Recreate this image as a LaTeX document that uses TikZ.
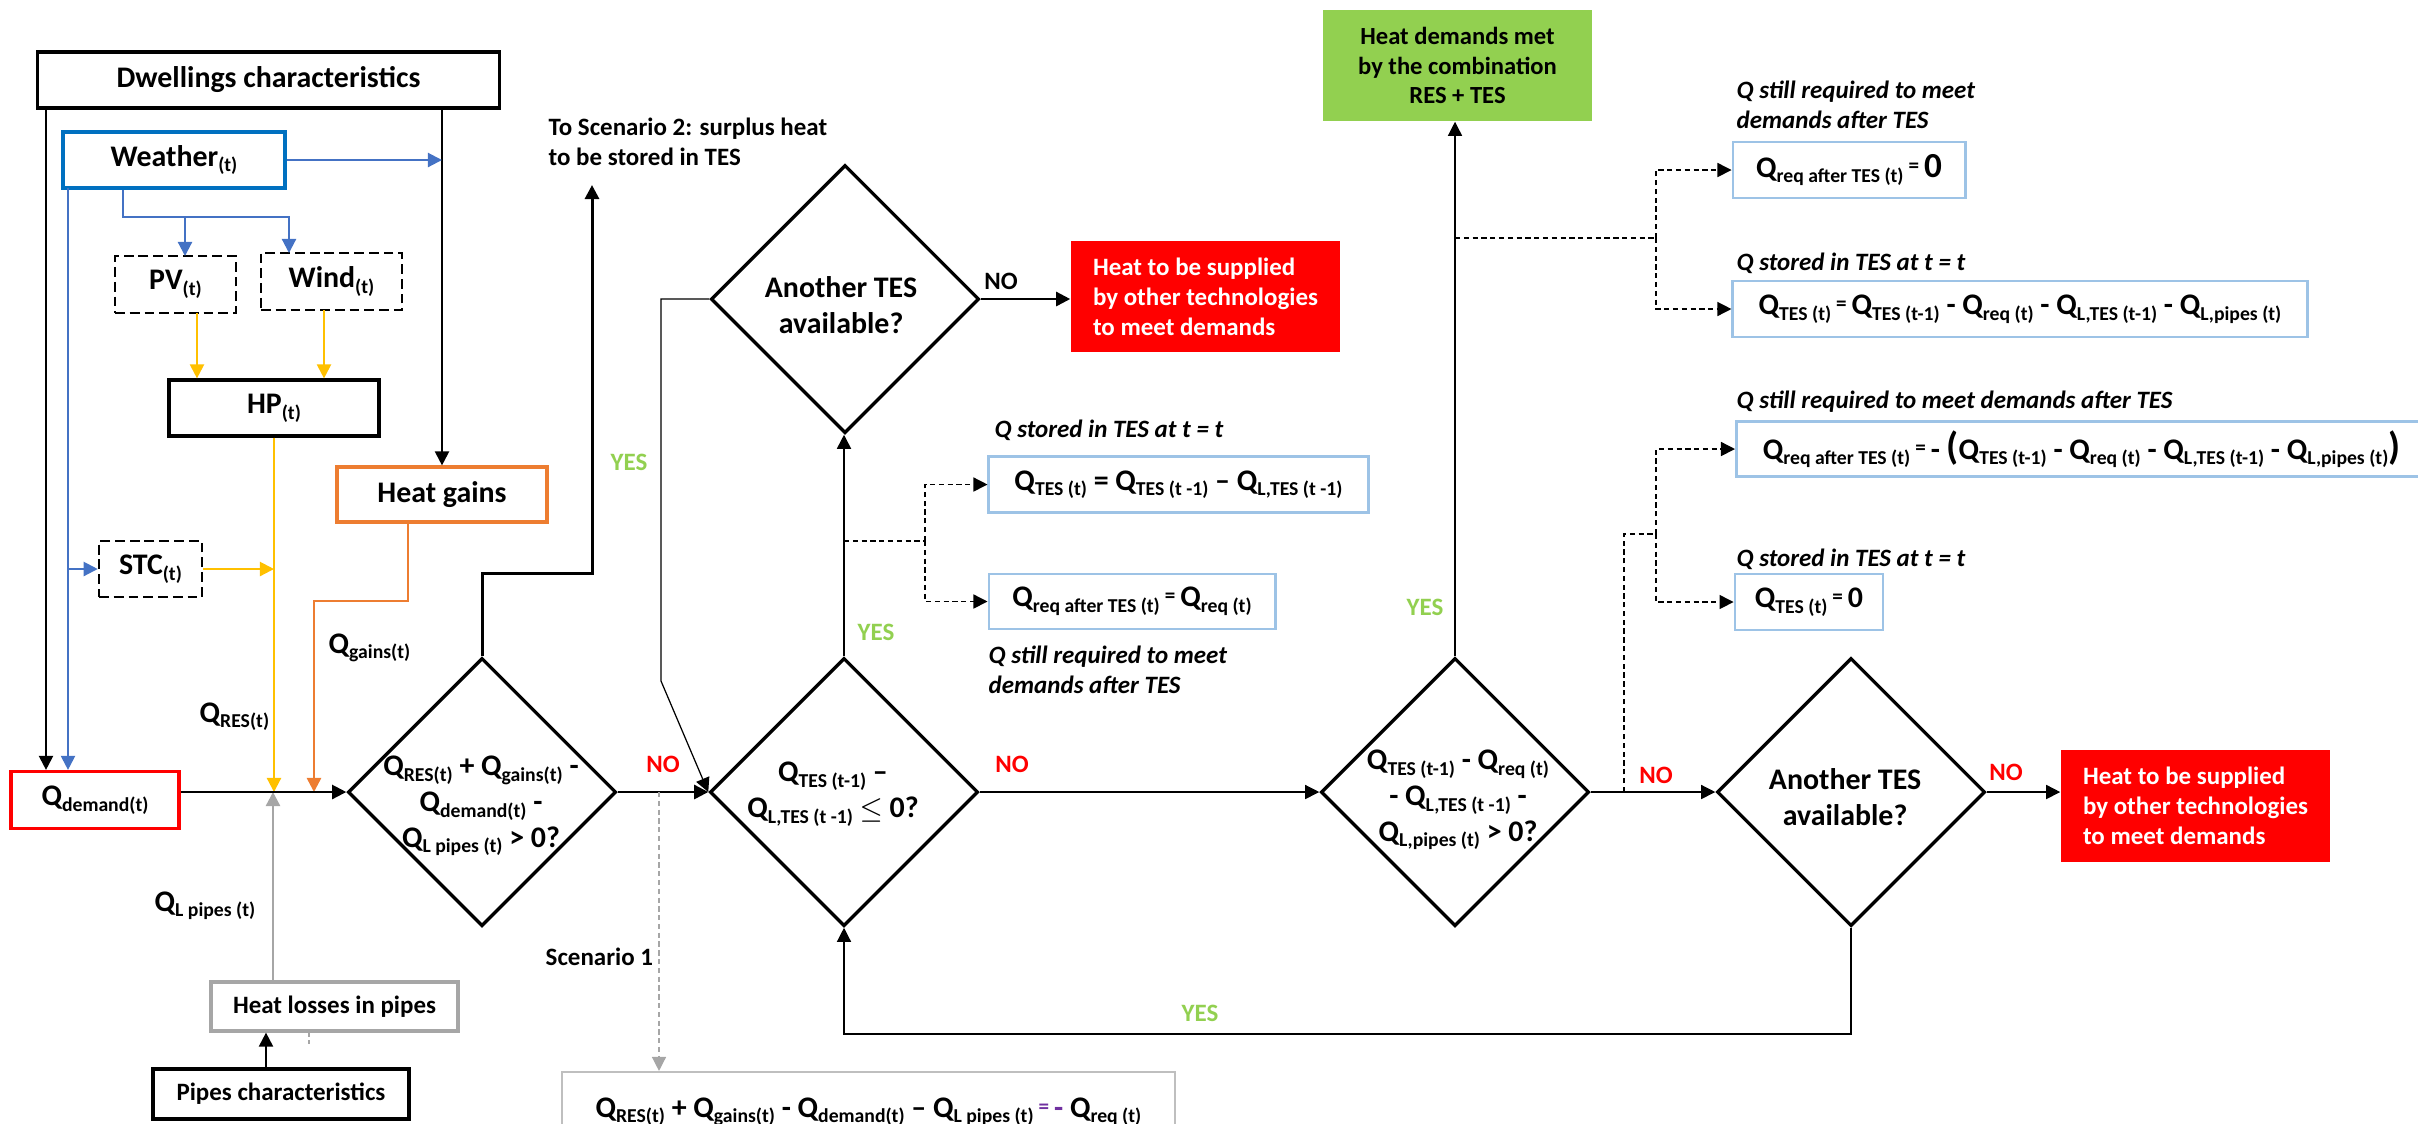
\documentclass[tikz,border=0pt]{standalone}
\usepackage{fontspec}
\setmainfont{Carlito}
\usetikzlibrary{shapes.geometric,arrows.meta}
\definecolor{wblue}{HTML}{0070C0}
\definecolor{ablue}{HTML}{4472C4}
\definecolor{ayellow}{HTML}{FFC000}
\definecolor{aorange}{HTML}{ED7D31}
\definecolor{agrey}{HTML}{A6A6A6}
\definecolor{lgrey}{HTML}{BFBFBF}
\definecolor{lblue}{HTML}{9DC3E6}
\definecolor{agreen}{HTML}{92D050}
\definecolor{apurple}{HTML}{7030A0}
\newcommand{\sbs}[1]{\raisebox{-1.6pt}{\fontsize{5.6}{6}\selectfont\spaceskip=0pt \xspaceskip=0pt #1}}
\newcommand{\Qs}[1]{Q\sbs{#1}}
\newcommand{\smeq}{\,\raisebox{1.2pt}{\fontsize{6}{6}\selectfont =}\,}

\begin{document}
\begin{tikzpicture}[x=0.01cm, y=-0.01cm,
  every node/.style={font=\bfseries\fontsize{8.5}{10.2}\selectfont, inner sep=0pt},
  headtip/.style={-{Triangle[length=4pt,width=4pt]}},
  flow/.style={line width=0.6pt, headtip},
  thinflow/.style={line width=0.35pt, headtip},
  dashflow/.style={line width=0.4pt, dash pattern=on 1.5pt off 1pt},
  box/.style={draw, line width=0.9pt},
  dbox/.style={draw, line width=0.7pt, dash pattern=on 2.8pt off 1.4pt},
  eqbox/.style={draw=lblue, line width=0.8pt},
  decision/.style={draw, diamond, line width=0.95pt, minimum width=2.68cm, minimum height=2.68cm},
  smalltxt/.style={font=\bfseries\fontsize{7.1}{8.5}\selectfont},
  outbox/.style={smalltxt, fill=red, text=white, minimum width=2.69cm, minimum height=1.11cm, align=left},
  metbox/.style={font=\bfseries\fontsize{7}{8.5}\selectfont, fill=agreen, minimum width=2.69cm, minimum height=1.11cm, align=center},
  note/.style={font=\bfseries\itshape\fontsize{7.1}{8.5}\selectfont, align=left, anchor=west},
  yeslbl/.style={smalltxt, text=agreen},
  nolbl/.style={smalltxt, text=red}]
  \useasboundingbox (0,0) rectangle (2418,1123);
  \clip (0,0) rectangle (2418,1123);

  % inputs
  \node[box, minimum width=4.61cm, minimum height=0.56cm] (dwell) at (268.5,80) {Dwellings characteristics};
  \node[box, draw=wblue, minimum width=2.22cm, minimum height=0.56cm] (weather) at (174,160) {Weather\sbs{(t)}};
  \node[dbox, minimum width=1.21cm, minimum height=0.57cm] (pv) at (175.5,284.5) {PV\sbs{(t)}};
  \node[dbox, minimum width=1.41cm, minimum height=0.57cm] (wind) at (331.5,281.5) {Wind\sbs{(t)}};
  \node[box, minimum width=2.10cm, minimum height=0.56cm] (hp) at (274,408) {HP\sbs{(t)}};
  \node[box, draw=aorange, minimum width=2.10cm, minimum height=0.55cm] (gains) at (442,494.5) {Heat gains};
  \node[dbox, minimum width=1.03cm, minimum height=0.56cm] (stc) at (150.5,569) {STC\sbs{(t)}};
  \node[box, draw=red, minimum width=1.68cm, minimum height=0.57cm] (demand) at (95,800) {\Qs{demand(t)}};
  \node[box, draw=agrey, smalltxt, minimum width=2.47cm, minimum height=0.49cm] (losses) at (334.5,1006.5) {Heat losses in pipes};
  \node[box, smalltxt, minimum width=2.56cm, minimum height=0.50cm] (pipes) at (281,1094) {Pipes characteristics};

  % flow labels
  \node[anchor=base west] (qres) at (199,722) {\Qs{RES(t)}};
  \node[anchor=base west] (qgains) at (328,653) {\Qs{gains(t)}};
  \node[anchor=base west] (qpipes) at (154,911) {\Qs{L pipes (t)}};

  % decisions
  \node[decision] (d1) at (482,792) {};
  \node[decision] (d2) at (844,792) {};
  \node[decision] (d3) at (845,299) {};
  \node[decision] (d4) at (1455,792) {};
  \node[decision] (d5) at (1851,792) {};
  \node[align=center] (d1txt) at (481,806) {\Qs{RES(t)} + \Qs{gains(t)} -\\\Qs{demand(t)} -\\\Qs{L pipes (t)} > 0?};
  \node[align=center] (d2txt) at (833,794) {\Qs{TES (t-1)} --\\\Qs{L,TES (t -1)} $\leq$ 0?};
  \node[align=center] (d3txt) at (841,305) {Another TES\\available?};
  \node[align=center] (d4txt) at (1458,800) {\Qs{TES (t-1)} - \Qs{req (t)}\\- \Qs{L,TES (t -1)} -\\\Qs{L,pipes (t)} > 0?};
  \node[align=center] (d5txt) at (1845,797) {Another TES\\available?};

  % outcomes
  \node[outbox] (other1) at (1205.5,296.5) {Heat to be supplied\\by other technologies\\to meet demands};
  \node[outbox] (other2) at (2195.5,806) {Heat to be supplied\\by other technologies\\to meet demands};
  \node[metbox] (met) at (1457.5,65.5) {Heat demands met\\by the combination\\RES + TES};
  \node[smalltxt, anchor=west, align=left] (scen2lbl) at (548,142) {To Scenario 2: surplus heat\\to be stored in TES};
  \node[smalltxt, anchor=base west] (scen1lbl) at (545,965) {Scenario 1};
  \node[box, draw=lgrey, line width=0.6pt, minimum width=6.13cm, minimum height=0.8cm] (scen1) at (868.5,1112)
    {\Qs{RES(t)} + \Qs{gains(t)} - \Qs{demand(t)} -- \Qs{L pipes (t)}\textcolor{apurple}{\smeq-} \Qs{req (t)}};

  % storage balances
  \node[eqbox, minimum width=3.79cm, minimum height=0.56cm] (tesA) at (1178.5,484.5) {\Qs{TES (t)} = \Qs{TES (t -1)} -- \Qs{L,TES (t -1)}};
  \node[eqbox, minimum width=2.86cm, minimum height=0.55cm] (reqB) at (1132,601.5) {\Qs{req after TES (t)}\smeq\Qs{req (t)}};
  \node[eqbox, minimum width=2.32cm, minimum height=0.56cm] (reqC) at (1849,170) {\Qs{req after TES (t)}\smeq{\fontsize{10}{10}\selectfont 0}};
  \node[eqbox, minimum width=5.74cm, minimum height=0.56cm] (tesD) at (2020,309) {\Qs{TES (t)}\smeq\Qs{TES (t-1)} - \Qs{req (t)} - \Qs{L,TES (t-1)} - \Qs{L,pipes (t)}};
  \node[eqbox, anchor=west, minimum width=6.9cm, minimum height=0.55cm] (reqE) at (1735,449)
    {\Qs{req after TES (t)}\smeq- {\fontsize{11}{11}\selectfont(}\Qs{TES (t-1)} - \Qs{req (t)} - \Qs{L,TES (t-1)} - \Qs{L,pipes (t)}{\fontsize{11}{11}\selectfont)}};
  \node[eqbox, minimum width=1.48cm, minimum height=0.56cm] (tesF) at (1809,602) {\Qs{TES (t)}\smeq 0};
  \node[note] (noteA) at (994,430) {Q stored in TES at t = t};
  \node[note] (noteB) at (988,670) {Q still required to meet\\demands after TES};
  \node[note] (noteC) at (1736,105) {Q still required to meet\\demands after TES};
  \node[note] (noteD) at (1736,263) {Q stored in TES at t = t};
  \node[note] (noteE) at (1736,402) {Q still required to meet demands after TES};
  \node[note] (noteF) at (1736,559) {Q stored in TES at t = t};

  % yes / no
  \node[yeslbl] (y1) at (629,462) {YES};
  \node[nolbl] (n1) at (663,764) {NO};
  \node[smalltxt] (n2) at (1001,281) {NO};
  \node[yeslbl] (y2) at (876,632) {YES};
  \node[nolbl] (n3) at (1012,764) {NO};
  \node[yeslbl] (y3) at (1200,1013) {YES};
  \node[yeslbl] (y4) at (1425,607) {YES};
  \node[nolbl] (n4) at (1656,775) {NO};
  \node[nolbl] (n5) at (2006,772) {NO};

  % inputs to demand
  \coordinate (dl) at (46,108);
  \draw[flow] (dl) -- (dl |- demand.north);
  \draw[flow] (gains.north |- dwell.south) -- (gains.north);
  \draw[flow, ablue] (weather.east) -- (weather.east -| gains.north);
  \coordinate (wl) at (68,188);
  \draw[flow, ablue] (wl) -- (wl |- demand.north);
  \draw[flow, ablue] (wl |- stc.west) -- (stc.west);
  \coordinate (wsplit) at (123,217);
  \coordinate (pvin) at (185,256);
  \coordinate (windin) at (289,253);
  \draw[flow, ablue] (wsplit |- weather.south) -- (wsplit) -| (windin);
  \draw[flow, ablue] (pvin |- wsplit) -- (pvin);
  \coordinate (pvout) at (197,313);
  \coordinate (windout) at (324,310);
  \draw[flow, ayellow] (pvout) -- (pvout |- hp.north);
  \draw[flow, ayellow] (windout) -- (windout |- hp.north);
  \draw[flow, ayellow] (hp.south) -- (hp.south |- d1.west);
  \draw[flow, ayellow] (stc.east) -- (stc.east -| hp.south);
  \coordinate (gout) at (408,522);
  \coordinate (gturn) at (314,601);
  \draw[flow, aorange, line width=0.7pt] (gout) |- (gturn) -- (gturn |- d1.west);
  \coordinate (lout) at (273,982);
  \draw[flow, agrey, line width=0.7pt] (lout) -- (lout |- d1.west);
  \coordinate (pout) at (266,1069);
  \draw[flow] (pout) -- (pout |- losses.south);
  \draw[agrey, dash pattern=on 1pt off 1pt, line width=0.4pt] (309,1033) -- (309,1044);

  % main chain
  \draw[flow] (demand.east |- d1.west) -- (d1.west);
  \coordinate (s2turn) at (592,573);
  \coordinate (s2end) at (592,185);
  \draw[flow, line width=0.85pt] (d1.north) |- (s2turn) -- (s2end);
  \draw[flow, line width=0.7pt] (d1.east) -- (d2.west);
  \coordinate (s1) at (659,792);
  \draw[dashflow, agrey, headtip] (s1) -- (s1 |- scen1.north);
  \coordinate (lp1) at (661,681);
  \draw[thinflow] (d3.west) -| (lp1) -- (d2.west);
  \draw[flow, line width=0.45pt] (d2.north) -- (d2.north |- d3.south);
  \coordinate (br1) at (925,541);
  \draw[dashflow] (d2.north |- br1) -- (br1);
  \draw[dashflow, headtip] (br1) |- (tesA.west);
  \draw[dashflow, headtip] (br1) |- (reqB.west);
  \draw[flow, line width=0.7pt] (d3.east) -- (d3.east -| other1.west);
  \draw[thinflow] (d2.east) -- (d4.west);
  \draw[thinflow] (d4.north) -- (d4.north |- met.south);
  \coordinate (br2) at (1656,238);
  \draw[dashflow] (d4.north |- br2) -- (br2);
  \draw[dashflow, headtip] (br2) |- (reqC.west);
  \draw[dashflow, headtip] (br2) |- (tesD.west);
  \coordinate (br3a) at (1624,534);
  \coordinate (br3) at (1656,534);
  \draw[dashflow] (br3a |- d4.east) -- (br3a) -- (br3);
  \draw[dashflow, headtip] (br3) |- (reqE.west);
  \draw[dashflow, headtip] (br3) |- (tesF.west);
  \draw[thinflow] (d4.east) -- (d5.west);
  \draw[flow, line width=0.45pt] (d5.east) -- (d5.east -| other2.west);
  \coordinate (lpb) at (844,1034);
  \draw[thinflow] (d5.south) |- (lpb) -- (d2.south);
\end{tikzpicture}
\end{document}
